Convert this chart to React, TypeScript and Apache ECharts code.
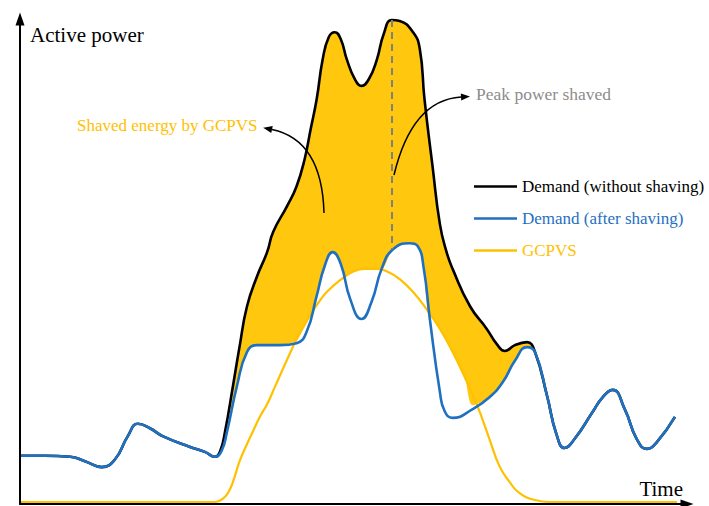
import React, { useEffect, useRef } from "react";
import * as echarts from "echarts";

// Time (0–100 arbitrary units) vs active power (0–100 arbitrary units)
const demandWithout: [number, number][] = [
  [0, 9.8], [3.7, 9.8], [7.5, 9.6], [9.7, 8.7], [12.2, 7.5], [14.2, 9.1], [16.1, 13.8],
  [17.6, 16.3], [19.4, 15.4], [21.3, 13.8], [25.4, 11.6], [27.6, 10.6], [29.1, 9.6],
  [29.9, 10.8], [30.6, 14.6], [31.8, 24.0], [32.8, 32.1], [33.9, 40.2], [35.4, 46.3],
  [36.9, 51.2], [37.8, 55.3], [39.9, 60.6], [41.3, 64.6], [42.5, 70.1], [43.4, 76.2],
  [44.3, 82.3], [45.2, 90.4], [46.1, 94.9], [47.0, 95.9], [47.9, 94.5], [48.8, 90.4],
  [50.0, 86.4], [51.0, 85.0], [52.1, 86.4], [53.3, 90.4], [54.3, 95.5], [55.5, 98.4],
  [56.7, 98.2], [58.7, 95.9], [59.7, 92.5], [60.4, 82.3], [61.6, 68.7], [62.7, 56.9],
  [63.7, 51.2], [64.6, 47.8], [67.2, 40.2], [69.7, 35.6], [71.2, 32.5], [72.4, 31.1],
  [73.9, 32.3], [75.7, 32.9], [76.9, 30.9], [78.7, 22.0], [80.1, 14.2], [81.3, 11.4],
  [82.8, 13.2], [85.5, 18.7], [87.0, 21.7], [88.5, 23.2], [90.3, 19.3], [92.1, 13.2],
  [93.6, 11.2], [95.1, 12.6], [97.8, 17.7],
];

const demandAfter: [number, number][] = [
  [0, 9.8], [3.7, 9.8], [7.5, 9.6], [9.7, 8.7], [12.2, 7.5], [14.2, 9.1], [16.1, 13.8],
  [17.6, 16.3], [19.4, 15.4], [21.3, 13.8], [25.4, 11.6], [27.6, 10.6], [29.1, 9.6],
  [30.1, 10.8], [30.9, 14.6], [32.4, 24.0], [33.9, 30.9], [35.4, 32.3], [38.8, 32.3],
  [41.3, 32.7], [42.8, 35.0], [44.3, 42.3], [45.5, 48.4], [46.7, 51.2], [47.9, 48.8],
  [49.3, 41.7], [51.0, 37.6], [52.5, 41.1], [54.0, 47.8], [55.7, 51.8], [58.2, 53.0],
  [59.4, 52.4], [60.3, 47.8], [61.2, 37.6], [62.7, 22.8], [63.4, 18.9], [64.6, 17.5],
  [67.6, 19.3], [70.1, 21.7], [72.1, 24.8], [73.9, 29.1], [75.7, 31.9], [76.9, 30.9],
  [78.7, 22.0], [80.1, 14.2], [81.3, 11.4], [82.8, 13.2], [85.5, 18.7], [87.0, 21.7],
  [88.5, 23.2], [90.3, 19.3], [92.1, 13.2], [93.6, 11.2], [95.1, 12.6], [97.8, 17.7],
];

const gcpvs: [number, number][] = [
  [0, 0.4], [11.9, 0.4], [26.9, 0.4], [29.1, 0.4], [30.4, 1.2], [31.2, 2.6], [31.8, 4.5],
  [32.8, 8.7], [33.9, 12.2], [34.8, 14.8], [35.8, 17.7], [36.9, 20.3], [38.0, 23.6],
  [39.1, 27.0], [40.2, 30.3], [41.3, 33.5], [42.5, 36.4], [43.6, 39.0], [44.7, 41.2],
  [45.8, 43.1], [47.8, 45.5], [49.7, 47.2], [51.5, 47.8], [53.3, 47.8], [55.2, 47.0],
  [56.7, 45.7], [58.7, 43.1], [60.7, 39.6], [62.7, 35.6], [64.6, 30.9], [66.4, 25.8],
  [68.2, 20.3], [70.1, 13.2], [71.6, 7.7], [73.1, 4.5], [74.6, 2.2], [76.9, 0.8],
  [79.1, 0.4], [86.6, 0.4], [98.1, 0.4],
];

// lower edge of the shaved-energy band (upper of the two other curves)
const shavedLower: [number, number][] = [
  [28.4, 10.0], [29.1, 9.6], [30.1, 10.8], [30.9, 14.6], [32.4, 24.0], [33.9, 30.9],
  [35.4, 32.3], [38.8, 32.3], [41.3, 33.3], [42.5, 36.4], [43.6, 39.0], [44.3, 42.3],
  [45.5, 48.4], [46.7, 51.2], [47.9, 48.8], [48.5, 46.1], [49.7, 47.2], [51.5, 47.8],
  [53.3, 47.8], [54.0, 47.8], [55.7, 51.8], [58.2, 53.0], [59.4, 52.4], [60.3, 47.8],
  [60.9, 40.0], [62.7, 35.6], [64.6, 30.9], [66.4, 25.8], [67.6, 20.1], [70.1, 21.7],
  [72.1, 24.8], [73.9, 29.1], [75.7, 31.9], [76.9, 30.9], [77.6, 27.0],
];

const shavedStart = 29.1;
const shavedEnd = 76.9;

const seriesNames = ["Demand (without shaving)", "Demand (after shaving)", "GCPVS"];
const seriesColors = ["#000000", "#1F70C1", "#FFC000"];
const fillColor = "#FFC70D";
const serif = '"Liberation Serif", "Times New Roman", serif';

function arrowHead(cx: number, cy: number, ex: number, ey: number, len = 9, half = 3.6) {
  const dx = ex - cx, dy = ey - cy;
  const L = Math.hypot(dx, dy);
  const ux = dx / L, uy = dy / L;
  const px = -uy, py = ux;
  return [
    [ex + ux * len, ey + uy * len],
    [ex + px * half, ey + py * half],
    [ex - px * half, ey - py * half],
  ];
}

export default function App() {
  const ref = useRef<HTMLDivElement>(null);

  useEffect(() => {
    if (!ref.current) return;
    const chart = echarts.init(ref.current, null, { renderer: "svg" });

    const peak = demandWithout.reduce((a, b) => (b[1] > a[1] ? b : a));
    const afterAtPeak = demandAfter.reduce((a, b) =>
      Math.abs(b[0] - peak[0]) < Math.abs(a[0] - peak[0]) ? b : a
    );
    const shavedTop = demandWithout.filter(([t]) => t >= shavedStart && t <= shavedEnd);

    const a1 = { x1: 324, y1: 213, cpx1: 322, cpy1: 140, x2: 272, y2: 129.5 };
    const a2 = { x1: 394, y1: 175, cpx1: 412, cpy1: 100, x2: 461, y2: 97 };

    chart.setOption({
      animation: false,
      grid: { left: 20, right: 22, top: 19, bottom: 2, containLabel: false },
      xAxis: {
        type: "value",
        min: 0,
        max: 99.6,
        z: 10,
        name: "Time",
        nameLocation: "end",
        nameGap: -4,
        nameTextStyle: {
          fontFamily: serif,
          fontSize: 21,
          color: "#000",
          align: "right",
          verticalAlign: "bottom",
          padding: [0, 0, 5, 0],
        },
        axisLine: {
          show: true,
          symbol: ["none", "triangle"],
          symbolSize: [9, 13],
          lineStyle: { color: "#000", width: 2 },
        },
        axisTick: { show: false },
        axisLabel: { show: false },
        splitLine: { show: false },
      },
      yAxis: {
        type: "value",
        min: 0,
        max: 98.6,
        z: 10,
        name: "Active power",
        nameLocation: "end",
        nameGap: -5,
        nameTextStyle: {
          fontFamily: serif,
          fontSize: 21,
          color: "#000",
          align: "left",
          verticalAlign: "top",
          padding: [0, 0, 0, 10],
        },
        axisLine: {
          show: true,
          symbol: ["none", "triangle"],
          symbolSize: [9, 13],
          lineStyle: { color: "#000", width: 2 },
        },
        axisTick: { show: false },
        axisLabel: { show: false },
        splitLine: { show: false },
      },
      legend: {
        orient: "vertical",
        left: 469,
        top: 173,
        itemWidth: 43,
        itemHeight: 2.5,
        itemGap: 15,
        icon: "rect",
        selectedMode: false,
        textStyle: { fontFamily: serif, fontSize: 17 },
        data: seriesNames.map((n, i) => ({ name: n, textStyle: { color: seriesColors[i] } })),
      },
      series: [
        {
          name: "shaved-top",
          type: "line",
          data: shavedTop,
          smooth: 0.5,
          showSymbol: false,
          silent: true,
          clip: false,
          lineStyle: { width: 0, opacity: 0 },
          areaStyle: { color: fillColor, opacity: 1 },
        },
        {
          name: "shaved-bottom",
          type: "line",
          data: shavedLower,
          smooth: 0.3,
          showSymbol: false,
          silent: true,
          clip: false,
          lineStyle: { width: 0, opacity: 0 },
          areaStyle: { color: "#ffffff", opacity: 1 },
        },
        {
          name: seriesNames[2],
          type: "line",
          data: gcpvs,
          smooth: 0.5,
          showSymbol: false,
          clip: false,
          color: seriesColors[2],
          lineStyle: { color: seriesColors[2], width: 2.2 },
        },
        {
          name: seriesNames[0],
          type: "line",
          data: demandWithout,
          smooth: 0.5,
          showSymbol: false,
          clip: false,
          color: seriesColors[0],
          lineStyle: { color: seriesColors[0], width: 2.6 },
          markLine: {
            silent: true,
            symbol: ["none", "none"],
            label: { show: false },
            lineStyle: { color: "#808080", width: 2, type: [7, 5] },
            data: [[{ coord: [peak[0], peak[1]] }, { coord: [peak[0], afterAtPeak[1]] }]],
          },
        },
        {
          name: seriesNames[1],
          type: "line",
          data: demandAfter,
          smooth: 0.5,
          showSymbol: false,
          clip: false,
          color: seriesColors[1],
          lineStyle: { color: seriesColors[1], width: 2.6 },
        },
      ],
      graphic: [
        {
          type: "text",
          left: 77,
          top: 117,
          z: 100,
          style: { text: "Shaved energy by GCPVS", fill: "#FFC000", font: `17px ${serif}` },
        },
        {
          type: "text",
          left: 476,
          top: 85,
          z: 100,
          style: { text: "Peak power shaved", fill: "#8C8C8C", font: `17.5px ${serif}` },
        },
        {
          type: "bezierCurve",
          z: 100,
          shape: a1,
          style: { stroke: "#000", lineWidth: 1.5, fill: "none" },
        },
        {
          type: "polygon",
          z: 100,
          shape: { points: arrowHead(a1.cpx1, a1.cpy1, a1.x2, a1.y2) },
          style: { fill: "#000" },
        },
        {
          type: "bezierCurve",
          z: 100,
          shape: a2,
          style: { stroke: "#000", lineWidth: 1.5, fill: "none" },
        },
        {
          type: "polygon",
          z: 100,
          shape: { points: arrowHead(a2.cpx1, a2.cpy1, a2.x2, a2.y2) },
          style: { fill: "#000" },
        },
      ],
    });

    return () => chart.dispose();
  }, []);

  return (
    <div
      ref={ref}
      style={{ position: "fixed", left: 0, top: 0, width: 709, height: 506, background: "#fff" }}
    />
  );
}
